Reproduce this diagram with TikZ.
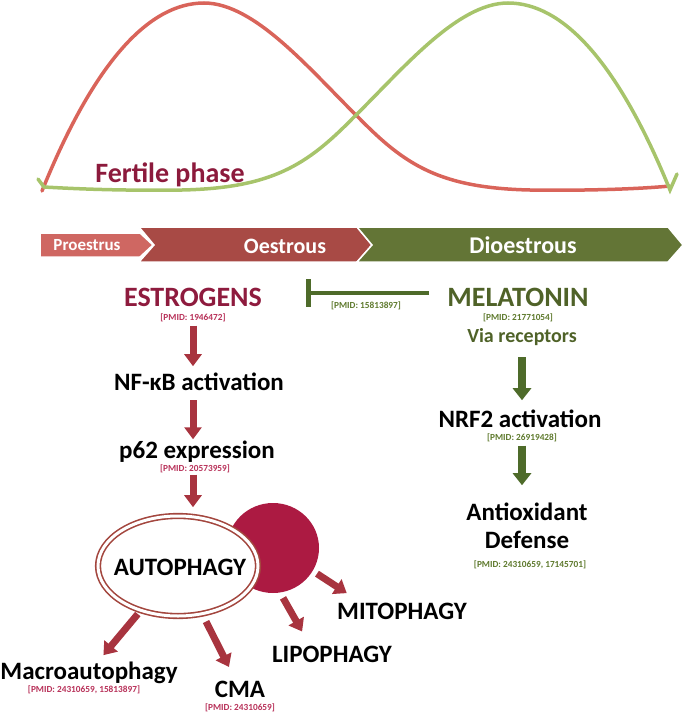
\documentclass[tikz,border=0pt]{standalone}
\usepackage{fontspec}
\setmainfont{Carlito}
\usepackage{tikz}
\usetikzlibrary{arrows.meta,shapes.geometric,positioning,calc}
\definecolor{curvered}{HTML}{D9645A}
\definecolor{curvegreen}{HTML}{A7C46B}
\definecolor{fertilecol}{HTML}{8C1A3C}
\definecolor{proestruscol}{HTML}{CF6762}
\definecolor{oestruscol}{HTML}{A84A45}
\definecolor{dioestruscol}{HTML}{637536}
\definecolor{estrocol}{HTML}{8E1B3E}
\definecolor{pmidred}{HTML}{B8325A}
\definecolor{melacol}{HTML}{4F6228}
\definecolor{pmidgreen}{HTML}{5F7A2E}
\definecolor{arrowred}{HTML}{A8343F}
\definecolor{arrowgreen}{HTML}{4E6B2A}
\definecolor{ringcol}{HTML}{A3463E}
\definecolor{vesiclecol}{HTML}{AC1A42}

\begin{document}
\begin{tikzpicture}[x=1pt,y=-1pt]

\tikzset{bigtext/.style={font=\bfseries\fontsize{25}{28}\selectfont,inner sep=0pt,anchor=base},
hormonetext/.style={font=\bfseries\fontsize{28}{32}\selectfont,inner sep=0pt,anchor=base},
pmidtext/.style={font=\bfseries\fontsize{9.3}{11}\selectfont,inner sep=0pt,anchor=base},
stagetext/.style={text=white,inner sep=0pt,anchor=base},
stagebox/.style={draw=white,line width=1.5pt},
redarrow/.style={draw=arrowred,line width=7pt,-{Triangle[width=17pt,length=12pt]}},
greenarrow/.style={draw=arrowgreen,line width=8pt,-{Triangle[width=18pt,length=12pt]}},
inhibit/.style={draw=arrowgreen,line width=4.5pt,-{Bar[width=28pt]}},
ringnode/.style={shape=ellipse,draw=ringcol,line width=1.6pt,double=white,double distance=3pt,fill=white,minimum width=160pt,minimum height=100pt,inner sep=0pt},
vesiclenode/.style={shape=ellipse,fill=vesiclecol,minimum width=92pt,minimum height=90pt,inner sep=0pt}}

\useasboundingbox (0,0) rectangle (685,712);

% Hormone curves
\draw[curvered,line width=3.5pt,line cap=round] (42,191) .. controls (95,60) and (150,3) .. (204,3) .. controls (255,3) and (310,70) .. (359,118) .. controls (405,165) and (440,188) .. (530,190) .. controls (600,191) and (650,188) .. (670,186);
\draw[curvegreen,line width=3.5pt,line cap=round] (677,174) -- (670,190) .. controls (617,60) and (562,3) .. (508,3) .. controls (457,3) and (402,70) .. (353,118) .. controls (307,165) and (272,188) .. (182,190) .. controls (112,191) and (62,188) .. (44,187) -- (38,179);
\node[font=\bfseries\fontsize{28}{32}\selectfont,text=fertilecol,inner sep=0pt,anchor=base] (fertile) at (170,182) {Fertile phase};

% Stages of the cycle
\fill[proestruscol,stagebox] (40,233) -- (140,233) -- (153,245) -- (140,257) -- (40,257) -- cycle;
\fill[oestruscol,stagebox] (139,227) -- (357,227) -- (372,245) -- (357,262) -- (139,262) -- (154,245) -- cycle;
\fill[dioestruscol,stagebox] (357,227) -- (668,227) -- (683,245) -- (668,262) -- (357,262) -- (372,245) -- cycle;
\node[stagetext,font=\bfseries\fontsize{17}{20}\selectfont] (proestrus) at (87,250) {Proestrus};
\node[stagetext,font=\bfseries\fontsize{22}{26}\selectfont] (oestrous) at (285,253) {Oestrous};
\node[stagetext,font=\bfseries\fontsize{24}{28}\selectfont] (dioestrous) at (523,253) {Dioestrous};

% Estrogen side
\node[hormonetext,text=estrocol] (estro) at (193,306) {ESTROGENS};
\node[pmidtext,text=pmidred] (estropmid) at (193,320) {[PMID: 1946472]};
\node[bigtext] (nfkb) at (199,390) {NF-κB activation};
\node[bigtext] (ptwo) at (197,458) {p62 expression};
\node[pmidtext,text=pmidred] (ptwopmid) at (195,471) {[PMID: 20573959]};

% Autophagy
\node[vesiclenode] (vesicle) at (273,548) {};
\node[ringnode] (autoring) at (178,566) {};
\node[bigtext] (autophagy) at (180,575) {AUTOPHAGY};
\node[bigtext] (macro) at (89,679) {Macroautophagy};
\node[pmidtext,text=pmidred] (macropmid) at (84,692) {[PMID: 24310659, 15813897]};
\node[bigtext] (cma) at (240,697) {CMA};
\node[pmidtext,text=pmidred] (cmapmid) at (240,710) {[PMID: 24310659]};
\node[bigtext] (lipo) at (332,662) {LIPOPHAGY};
\node[bigtext] (mito) at (402,619) {MITOPHAGY};

% Melatonin side
\node[hormonetext,text=melacol] (melatonin) at (518,306) {MELATONIN};
\node[pmidtext,text=pmidgreen] (melapmid) at (518,320) {[PMID: 21771054]};
\node[font=\bfseries\fontsize{20}{24}\selectfont,text=melacol,inner sep=0pt,anchor=base] (receptors) at (522,342) {Via receptors};
\node[bigtext] (nrf) at (520,427) {NRF2 activation};
\node[pmidtext,text=pmidgreen] (nrfpmid) at (522,440) {[PMID: 26919428]};
\node[bigtext,align=center] (antiox) at (527,548) {Antioxidant\\Defense};
\node[pmidtext,text=pmidgreen] (antioxpmid) at (530,567) {[PMID: 24310659, 17145701]};
\node[pmidtext,text=pmidgreen] (inhibpmid) at (366,308) {[PMID: 15813897]};

% Edges
\draw[inhibit,shorten <=18pt,shorten >=44pt] ([yshift=4pt]melatonin.west) -- ([yshift=4pt]estro.east);
\draw[redarrow,shorten <=4pt,shorten >=6pt] (estropmid.south -| estro) -- (estro |- nfkb.north);
\draw[redarrow,shorten <=10pt,shorten >=1pt] (nfkb.south -| estro) -- (estro |- ptwo.north);
\draw[redarrow,shorten <=2pt,shorten >=8pt] (ptwopmid.south -| estro) -- (estro |- autoring.north);
\draw[greenarrow,shorten <=12pt,shorten >=9pt] (receptors.south) -- (receptors.south |- nrf.north);
\draw[greenarrow,shorten <=4pt,shorten >=17pt] (nrfpmid.south) -- (nrfpmid.south |- antiox.north);
\draw[redarrow,shorten <=4pt,shorten >=8pt] (autoring) -- (macro);
\draw[redarrow,shorten <=8pt,shorten >=15pt] (autoring) -- (cma);
\draw[redarrow,shorten <=6pt,shorten >=16pt] (vesicle.-81) -- ([xshift=-22pt]lipo.north);
\draw[redarrow,shorten <=5pt,shorten >=17pt] (vesicle.-30) -- ([xshift=24pt]mito.north west);

\end{tikzpicture}
\end{document}
